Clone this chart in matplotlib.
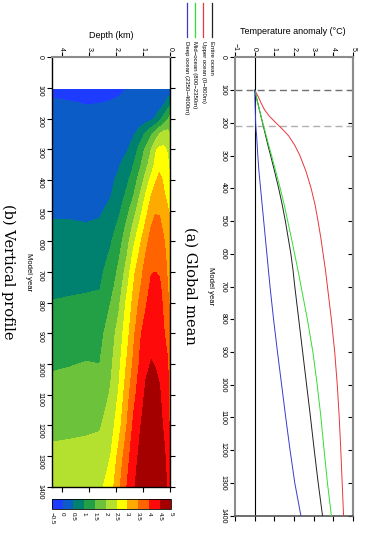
import numpy as np
import matplotlib
matplotlib.use("Agg")
import matplotlib.pyplot as plt
from matplotlib.colors import ListedColormap, BoundaryNorm
from matplotlib.lines import Line2D

plt.rcParams['font.family'] = ['Liberation Sans', 'DejaVu Sans']

# ---------------- data: (a) global mean ----------------
model_year = [100, 120, 140, 160, 180, 200, 220, 240, 270, 300, 350, 400, 450, 500,
              550, 600, 650, 700, 750, 800, 900, 1000, 1100, 1200, 1300, 1400]
entire_ocean = [0, 0.08, 0.16, 0.24, 0.32, 0.40, 0.48, 0.56, 0.68, 0.81, 1.02, 1.22, 1.40, 1.56,
                1.70, 1.84, 1.95, 2.04, 2.14, 2.24, 2.44, 2.64, 2.84, 3.03, 3.23, 3.45]
upper_ocean = [0, 0.18, 0.33, 0.50, 0.75, 1.08, 1.42, 1.73, 2.05, 2.30, 2.62, 2.87, 3.07, 3.22,
               3.36, 3.48, 3.60, 3.70, 3.80, 3.90, 4.07, 4.20, 4.30, 4.38, 4.45, 4.52]
mid_ocean = [0, 0.08, 0.16, 0.24, 0.32, 0.41, 0.50, 0.59, 0.72, 0.86, 1.08, 1.30, 1.50, 1.68,
             1.86, 2.03, 2.20, 2.36, 2.52, 2.68, 2.96, 3.18, 3.37, 3.53, 3.70, 3.90]
deep_ocean = [0, 0.01, 0.02, 0.03, 0.04, 0.05, 0.07, 0.10, 0.13, 0.16, 0.22, 0.30, 0.38, 0.46,
              0.54, 0.62, 0.70, 0.78, 0.87, 0.96, 1.16, 1.37, 1.58, 1.80, 2.04, 2.35]
series_labels = ["Entire ocean", "Upper ocean (0\u2212800m)",
                 "Mid\u2212ocean (800\u22122350m)", "Deep ocean (2350\u22124600m)"]
series_colors = ["#222222", "#e8363a", "#33dd33", "#3a3acc"]
marker_years = [100, 210]

temp_ticks = [-1, 0, 1, 2, 3, 4, 5]
temp_labels = ["\u22121", "0", "1", "2", "3", "4", "5"]
year_ticks = list(range(0, 1401, 100))

# ---------------- data: (b) vertical profile ----------------
depth_km = [0.0, 0.1, 0.25, 0.4, 0.55, 0.7, 0.9, 1.1, 1.35, 1.6, 1.9, 2.2, 2.6, 3.1, 3.7, 4.35]
profile_year = [105, 150, 200, 250, 300, 350, 400, 450, 500, 550, 600, 650, 700, 750, 800,
                900, 1000, 1100, 1200, 1300, 1400]
t105 = [0.20, 0.15, 0.10, 0.08, 0.06, 0.05, 0.04, 0.03, 0.02, 0.01, -0.04, -0.08, -0.10, -0.10, -0.10, -0.08]
t150 = [0.90, 0.70, 0.40, 0.25, 0.18, 0.14, 0.12, 0.10, 0.08, 0.06, 0.04, 0.02, 0.00, -0.01, 0.02, 0.05]
t200 = [1.70, 1.45, 1.15, 0.85, 0.55, 0.40, 0.30, 0.22, 0.18, 0.15, 0.12, 0.10, 0.08, 0.08, 0.10, 0.12]
t250 = [2.00, 2.20, 2.20, 2.00, 1.70, 1.45, 1.10, 0.75, 0.45, 0.32, 0.25, 0.20, 0.17, 0.15, 0.16, 0.18]
t300 = [2.20, 2.45, 2.60, 2.60, 2.45, 2.00, 1.60, 1.20, 0.75, 0.45, 0.33, 0.27, 0.22, 0.20, 0.20, 0.22]
t350 = [2.30, 2.60, 2.85, 2.90, 2.60, 2.25, 1.85, 1.45, 1.00, 0.72, 0.45, 0.33, 0.27, 0.25, 0.25, 0.26]
t400 = [2.50, 2.75, 2.95, 3.10, 2.95, 2.65, 2.20, 1.75, 1.25, 0.90, 0.60, 0.40, 0.32, 0.30, 0.30, 0.30]
t450 = [2.70, 2.90, 3.05, 3.30, 3.20, 3.00, 2.55, 2.05, 1.50, 1.10, 0.75, 0.48, 0.38, 0.35, 0.35, 0.34]
t500 = [2.90, 3.05, 3.25, 3.45, 3.45, 3.25, 2.85, 2.35, 1.80, 1.35, 0.90, 0.60, 0.45, 0.43, 0.44, 0.44]
t550 = [3.10, 3.20, 3.40, 3.60, 3.65, 3.50, 3.10, 2.65, 2.10, 1.60, 1.10, 0.78, 0.55, 0.52, 0.54, 0.54]
t600 = [3.20, 3.30, 3.55, 3.75, 3.82, 3.70, 3.35, 2.95, 2.40, 1.80, 1.28, 0.95, 0.66, 0.62, 0.62, 0.62]
t650 = [3.30, 3.40, 3.62, 3.85, 3.92, 3.85, 3.55, 3.15, 2.65, 2.00, 1.45, 1.08, 0.78, 0.72, 0.72, 0.70]
t700 = [3.30, 3.45, 3.70, 3.95, 4.00, 3.98, 3.70, 3.35, 2.90, 2.20, 1.60, 1.20, 0.90, 0.82, 0.80, 0.78]
t750 = [3.35, 3.50, 3.80, 4.10, 4.20, 4.10, 3.82, 3.48, 3.02, 2.42, 1.72, 1.35, 0.98, 0.95, 0.93, 0.90]
t800 = [3.40, 3.60, 3.90, 4.20, 4.30, 4.20, 3.95, 3.65, 3.15, 2.60, 1.90, 1.50, 1.10, 1.08, 1.05, 1.02]
t900 = [3.50, 3.80, 4.05, 4.30, 4.40, 4.38, 4.20, 3.95, 3.40, 2.80, 2.20, 1.75, 1.35, 1.30, 1.25, 1.20]
t1000 = [3.60, 4.05, 4.20, 4.40, 4.48, 4.52, 4.42, 4.10, 3.60, 3.05, 2.35, 1.90, 1.50, 1.52, 1.48, 1.45]
t1100 = [3.70, 4.15, 4.35, 4.55, 4.65, 4.70, 4.58, 4.30, 3.85, 3.30, 2.55, 2.05, 1.72, 1.72, 1.68, 1.65]
t1200 = [3.80, 4.25, 4.45, 4.65, 4.75, 4.80, 4.70, 4.48, 4.10, 3.50, 2.80, 2.25, 1.95, 1.92, 1.90, 1.88]
t1300 = [3.90, 4.35, 4.60, 4.75, 4.85, 4.88, 4.85, 4.62, 4.30, 3.80, 3.15, 2.50, 2.20, 2.15, 2.12, 2.10]
t1400 = [3.95, 4.45, 4.70, 4.85, 4.90, 4.95, 4.90, 4.72, 4.45, 4.00, 3.40, 2.75, 2.38, 2.30, 2.28, 2.25]
profile = [t105, t150, t200, t250, t300, t350, t400, t450, t500, t550, t600, t650, t700, t750,
           t800, t900, t1000, t1100, t1200, t1300, t1400]

levels = [-0.5, 0, 0.5, 1, 1.5, 2, 2.5, 3, 3.5, 4, 4.5, 5]
level_labels = ["\u22120.5", "0", "0.5", "1", "1.5", "2", "2.5", "3", "3.5", "4", "4.5", "5"]
level_colors = ["#1e3cff", "#0c5cc8", "#00806f", "#23a045", "#6cc23a", "#b4e02f",
                "#ffff00", "#ffaa00", "#ff6400", "#ff0a0a", "#a50000"]
depth_ticks = [0, 1, 2, 3, 4]

# ---------------- figure ----------------
W, H = 365, 544
def fx(x):
    return x / W
def fy(y):
    return 1 - y / H

fig = plt.figure(figsize=(W / 100, H / 100), dpi=100)

TL = 3.6  # tick length (pt)
LS = 5    # tick label size

# ---- panel (a)
ax_a = fig.add_axes([fx(235), fy(515.7), (353 - 235) / W, (515.7 - 57.3) / H])
for yv, c in zip(marker_years, ["#707070", "#b0b0b0"]):
    ax_a.axhline(yv, color=c, lw=1.0, dashes=(5, 3), zorder=1)
ax_a.axvline(0, color="black", lw=0.8, zorder=2)
for vals, col in zip([entire_ocean, upper_ocean, mid_ocean, deep_ocean], series_colors):
    ax_a.plot(vals, model_year, color=col, lw=0.7, zorder=3)
ax_a.set_xlim(-1, 5)
ax_a.set_ylim(1400, 0)
ax_a.set_xticks(temp_ticks)
ax_a.set_xticklabels(temp_labels)
ax_a.set_yticks(year_ticks)
ax_a.set_yticklabels([str(v) for v in year_ticks])
ax_a.tick_params(axis="x", top=True, bottom=True, labeltop=True, labelbottom=False,
                 direction="out", length=TL, width=0.8, labelsize=LS, labelrotation=-90, pad=1)
ax_a.tick_params(axis="y", left=True, right=False, direction="out", length=TL, width=0.8,
                 labelsize=LS, labelrotation=-90, pad=2.5)
for lab in ax_a.get_yticklabels():
    lab.set_va("center")
sec = ax_a.secondary_yaxis("right")
sec.set_yticks(year_ticks)
sec.set_yticklabels([])
sec.tick_params(direction="in", length=TL, width=0.8)
sec.spines["right"].set_color("#8c8c8c")
sec.spines["right"].set_linewidth(1.5)
for s in ["left", "right", "top"]:
    ax_a.spines[s].set_color("#8c8c8c")
    ax_a.spines[s].set_linewidth(1.5)
ax_a.spines["bottom"].set_color("#555555")
ax_a.spines["bottom"].set_linewidth(1.2)

# ---- panel (b)
ax_b = fig.add_axes([fx(52.3), fy(486.7), 118 / W, (486.7 - 57.3) / H])
cmap = ListedColormap(level_colors)
norm = BoundaryNorm(levels, cmap.N)
cf = ax_b.contourf(depth_km, profile_year, np.array(profile), levels=levels, cmap=cmap, norm=norm)
ax_b.set_xlim(4.35, 0)
ax_b.set_ylim(1400, 0)
ax_b.set_xticks(depth_ticks)
ax_b.set_xticklabels([str(v) for v in depth_ticks])
ax_b.set_yticks(year_ticks)
ax_b.set_yticklabels([str(v) for v in year_ticks])
ax_b.tick_params(axis="x", top=True, bottom=True, labeltop=True, labelbottom=False,
                 direction="out", length=TL, width=0.8, labelsize=LS, labelrotation=-90, pad=1)
ax_b.tick_params(axis="y", left=True, right=True, direction="out", length=TL, width=0.8,
                 labelsize=LS, labelrotation=-90, pad=2.5)
for s in ["left", "right", "bottom"]:
    ax_b.spines[s].set_color("black")
    ax_b.spines[s].set_linewidth(1.0)
ax_b.spines["top"].set_color("#8c8c8c")
ax_b.spines["top"].set_linewidth(1.5)

# ---- colorbar
cax = fig.add_axes([fx(51.7), fy(509), 119 / W, 10 / H])
cb = fig.colorbar(cf, cax=cax, orientation="horizontal")
cb.set_ticks(levels)
cb.set_ticklabels(level_labels)
cax.tick_params(length=0, labelsize=4.5, labelrotation=-90, pad=2)
cb.outline.set_linewidth(0.6)

# ---- axis labels & titles
fig.text(fx(293), fy(32), "Temperature anomaly (\u00b0C)", ha="center", va="center", fontsize=6.5)
fig.text(fx(111.3), fy(36), "Depth (km)", ha="center", va="center", fontsize=6.5)
fig.text(fx(211), fy(286), "Model year", ha="center", va="center", fontsize=5.5, rotation=-90)
fig.text(fx(28), fy(272), "Model year", ha="center", va="center", fontsize=5.5, rotation=-90)
fig.text(fx(190), fy(286), "(a) Global mean", ha="center", va="center", fontsize=10.5,
         rotation=-90, family="DejaVu Serif")
fig.text(fx(8), fy(272), "(b) Vertical profile", ha="center", va="center", fontsize=10.5,
         rotation=-90, family="DejaVu Serif")

# ---- legend (vertical, rotated)
leg_x = [211.7, 203.3, 195.0, 186.7]
for x, lab, col in zip(leg_x, series_labels, series_colors):
    fig.add_artist(Line2D([fx(x), fx(x)], [fy(3), fy(37)], color=col, lw=0.9,
                          transform=fig.transFigure))
    fig.text(fx(x), fy(41), lab, ha="center", va="top", fontsize=4.3, rotation=-90)

fig.savefig("out.png", dpi=100)
